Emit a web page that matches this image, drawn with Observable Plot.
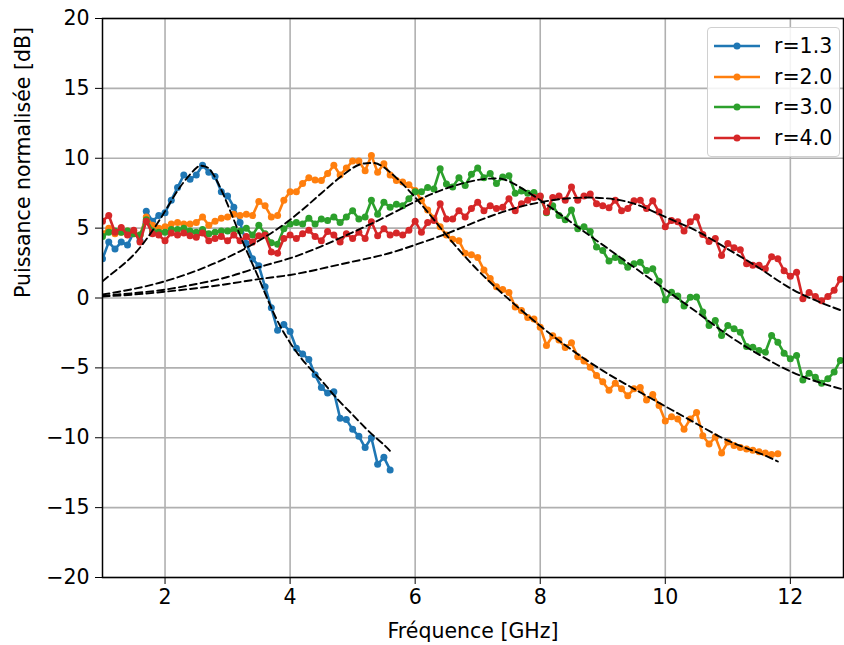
<!DOCTYPE html>
<html>
<head>
<meta charset="utf-8">
<script src="https://cdn.jsdelivr.net/npm/d3@7"></script>
<script src="https://cdn.jsdelivr.net/npm/@observablehq/plot@0.6"></script>
<style>
  body { margin: 0; background: white; }
  #wrap { position: relative; width: 844px; height: 645px; font-family: "DejaVu Sans", sans-serif; }
  #legend { position: absolute; left: 707px; top: 27px; width: 133px; height: 130px;
    border: 1px solid #d0d0d0; border-radius: 4px; background: rgba(255,255,255,0.85); box-sizing: border-box; }
  .row { position: absolute; left: 0; height: 30px; display: flex; align-items: center; }
  .row span { font-size: 20.5px; color: black; margin-left: 14px; }
  .row svg { margin-left: 6px; }
</style>
</head>
<body>
<div id="wrap"><div id="legend"></div></div>
<script>
// Frequency grid of the measurements (GHz)
const freqStart = 1.0;
const freqStep = 0.1;

// Series names and colours
const seriesNames = ["r=1.3", "r=2.0", "r=3.0", "r=4.0"];
const seriesColors = ["#1f77b4", "#ff7f0e", "#2ca02c", "#d62728"];

// Measured normalised power [dB], one value per 0.1 GHz from 1.0 GHz
const r13 = [2.8, 4.0, 3.5, 4.0, 3.8, 4.7, 4.1, 6.2, 5.5, 5.9,
  6.1, 7.0, 7.9, 8.8, 8.5, 8.8, 9.5, 9.0, 8.7, 7.6,
  7.3, 6.5, 5.4, 3.9, 2.8, 2.3, 0.8, -0.7, -2.3, -1.9,
  -2.4, -3.6, -4.0, -4.4, -5.5, -6.4, -6.8, -6.7, -8.6, -8.7,
  -9.4, -9.9, -10.7, -10.0, -11.9, -11.4, -12.3];

const r20 = [4.6, 5.0, 4.6, 4.7, 4.8, 4.6, 4.5, 5.8, 5.2, 5.0,
  5.1, 5.3, 5.4, 5.3, 5.3, 5.4, 5.8, 5.2, 5.5, 5.7,
  5.8, 6.0, 5.9, 6.0, 5.9, 6.9, 6.6, 5.8, 5.9, 7.0,
  7.6, 7.6, 8.2, 8.6, 8.45, 8.4, 8.9, 9.5, 8.8, 9.3,
  9.8, 9.8, 9.1, 10.2, 9.0, 9.6, 8.8, 8.4,
  8.3, 8.1, 7.7, 7.0, 6.3, 5.7, 5.1, 4.5, 4.2, 4.1,
  3.2, 3.1, 2.9, 2.0, 1.4, 0.8, 0.6, 0.4, -0.65, -0.9,
  -1.4, -1.5, -2.1, -3.4, -2.7, -3.0, -3.55, -3.2, -4.2, -4.5,
  -4.95, -5.55, -6.0, -6.6, -6.1, -6.5, -7.0, -6.5, -6.4, -7.3,
  -6.9, -7.7, -8.8, -8.5, -8.65, -9.4, -8.65, -8.2, -9.85, -10.45,
  -9.95, -11.1, -10.3, -10.55, -10.7, -10.8, -10.9, -11.0, -11.1, -11.2,
  -11.15];

const r30 = [4.4, 4.7, 4.8, 4.7, 4.8, 4.6, 4.5, 5.6, 4.8, 4.7,
  4.7, 4.9, 4.9, 5.0, 4.8, 4.7, 4.9, 4.6, 4.7, 4.8,
  4.8, 4.9, 4.8, 5.0,
  4.5, 5.2, 4.6, 3.95, 3.85, 4.95, 5.3, 5.4, 5.3, 5.7,
  5.3, 5.65, 5.55, 5.8, 5.4, 5.8, 6.25, 5.65, 5.8, 7.0,
  6.0, 6.85, 6.5, 6.7, 6.6, 7.1, 7.6, 7.6, 7.9, 7.8,
  9.24, 8.15, 7.95, 8.6, 8.05, 8.85, 9.3, 8.6, 8.9, 8.2,
  8.65, 8.75, 7.5, 7.65, 7.5, 7.55, 7.25, 6.1, 6.6, 5.9,
  5.6, 6.3, 4.95, 5.1, 4.75, 3.65, 3.4, 2.65, 2.9, 2.65,
  2.2, 2.45, 2.55, 1.97, 2.09, 1.2, -0.15, 0.42, 0.15, -0.58,
  0.06, 0.08, -1.0, -1.97, -1.61, -2.68, -1.97, -2.2, -2.45, -3.47,
  -3.52, -3.76, -3.88, -2.68, -3.16, -3.95, -4.35, -4.11, -5.86, -5.38,
  -5.67, -6.1, -5.78, -5.3, -4.47];

const r40 = [5.5, 5.9, 4.7, 5.05, 4.5, 4.85, 4.0, 5.5, 4.6, 4.5,
  4.1, 4.65, 4.5, 4.65, 4.45, 4.35, 4.65, 4.1, 4.25, 4.4,
  4.1, 4.5, 4.1, 4.4, 4.0, 4.45, 4.5, 3.3, 3.2, 4.25,
  4.5, 4.25, 4.6, 4.85, 4.4, 4.1, 4.75, 4.5, 4.0, 4.6,
  4.25, 4.7, 4.25, 5.45, 4.45, 4.95, 4.5, 4.65,
  4.5, 4.85, 5.5, 4.7, 5.4, 5.55, 6.75, 5.65, 5.65, 6.25,
  5.8, 6.4, 6.85, 6.25, 6.6, 6.4, 6.5, 7.1, 6.25, 6.75,
  7.0, 7.2, 7.3, 6.15, 7.2,
  7.3, 7.0, 7.95, 7.0, 7.3, 7.45, 6.75, 6.6, 6.45, 7.0,
  6.25, 6.4, 6.95, 7.0, 6.4, 6.95, 6.15, 5.1, 5.55, 5.45,
  4.8, 5.45, 5.8, 4.55, 4.05, 4.25, 3.05, 3.9, 3.6, 3.45,
  2.45, 2.35, 2.35, 2.1, 2.95, 2.8, 1.95, 1.55, 1.85, -0.05,
  0.4, 0.1, -0.2, 0.1, 0.55, 1.35];

// Fitted curves (dashed)
const fit13F = [1.0, 1.25, 1.5, 1.75, 2.0, 2.25, 2.5, 2.6, 2.75, 3.0, 3.25, 3.5, 3.75, 4.0, 4.25, 4.5, 4.75, 5.0, 5.25, 5.5, 5.6];
const fit13V = [1.2, 2.1, 3.1, 4.5, 6.2, 8.0, 9.3, 9.45, 9.0, 6.7, 3.95, 1.4, -1.2, -3.2, -4.7, -5.9, -7.2, -8.35, -9.5, -10.5, -10.95];

const fit20F = [1.0, 1.5, 2.0, 2.5, 3.0, 3.5, 4.0, 4.5, 5.0, 5.25, 5.5, 6.0, 6.5, 7.0, 7.5, 8.0, 8.5, 9.0, 9.5, 10.0, 10.5, 11.0, 11.5, 11.8];
const fit20V = [0.25, 0.65, 1.2, 1.95, 2.9, 4.1, 5.6, 7.5, 9.3, 9.65, 9.35, 7.2, 4.5, 2.0, -0.1, -2.0, -3.7, -5.2, -6.5, -7.75, -9.0, -10.2, -11.1, -11.7];

const fit30F = [1.0, 1.5, 2.0, 2.5, 3.0, 3.5, 4.0, 4.5, 5.0, 5.5, 6.0, 6.5, 7.0, 7.25, 7.5, 8.0, 8.5, 9.0, 9.5, 10.0, 10.5, 11.0, 11.5, 12.0, 12.5, 12.85];
const fit30V = [0.15, 0.35, 0.6, 1.0, 1.5, 2.2, 2.85, 3.7, 4.7, 5.75, 6.9, 7.85, 8.45, 8.55, 8.35, 7.0, 5.4, 3.8, 2.2, 0.6, -1.0, -2.65, -4.05, -5.25, -6.1, -6.55];

const fit40F = [1.0, 1.5, 2.0, 2.5, 3.0, 3.5, 4.0, 4.5, 5.0, 5.5, 6.0, 6.5, 7.0, 7.5, 8.0, 8.5, 9.0, 9.5, 10.0, 10.5, 11.0, 11.5, 12.0, 12.5, 12.85];
const fit40V = [0.1, 0.25, 0.45, 0.7, 1.0, 1.35, 1.65, 2.1, 2.6, 3.1, 3.8, 4.6, 5.5, 6.3, 6.85, 7.15, 7.15, 6.75, 5.8, 4.8, 3.5, 2.15, 0.7, -0.35, -0.95];

// Axis ticks
const xTicks = [2, 4, 6, 8, 10, 12];
const yTicks = [-20, -15, -10, -5, 0, 5, 10, 15, 20];

const seriesValues = [r13, r20, r30, r40];
const fits = [[fit13F, fit13V], [fit20F, fit20V], [fit30F, fit30V], [fit40F, fit40V]];

const dataRows = seriesValues.map((vals, j) =>
  vals.map((v, i) => ({f: +(freqStart + i * freqStep).toFixed(2), v, s: seriesNames[j]})));
const fitRows = fits.flatMap(([F, V], j) => F.map((f, i) => ({f, v: V[i], s: seriesNames[j]})));

const FS = 20.5;
const marks = [
  Plot.gridX(xTicks, {stroke: "#b0b0b0", strokeOpacity: 1, strokeWidth: 1.6}),
  Plot.gridY(yTicks, {stroke: "#b0b0b0", strokeOpacity: 1, strokeWidth: 1.6})
];
dataRows.forEach((rows, j) => {
  marks.push(Plot.line(rows, {x: "f", y: "v", stroke: seriesColors[j], strokeWidth: 2.6, clip: true}));
  marks.push(Plot.dot(rows, {x: "f", y: "v", r: 3.5, fill: seriesColors[j], stroke: "none", clip: true}));
});
marks.push(Plot.line(fitRows, {x: "f", y: "v", z: "s", stroke: "black", strokeWidth: 1.9,
  strokeDasharray: "7,4", curve: "natural", clip: true}));
marks.push(Plot.frame({stroke: "black", strokeWidth: 1.5}));
marks.push(Plot.axisX(xTicks, {tickSize: 7, tickPadding: 5, label: null, fontSize: FS}));
marks.push(Plot.axisY(yTicks, {tickSize: 7, tickPadding: 6, label: null, fontSize: FS}));
marks.push(Plot.text(["Fréquence [GHz]"], {text: d => d, frameAnchor: "bottom", dy: 60, fontSize: FS}));
marks.push(Plot.text(["Puissance normalisée [dB]"], {text: d => d, frameAnchor: "left", dx: -79, rotate: -90, fontSize: FS}));

const chart = Plot.plot({
  width: 844, height: 645,
  marginLeft: 102, marginRight: 1, marginTop: 18, marginBottom: 68,
  x: {domain: [1, 12.85]},
  y: {domain: [-20, 20]},
  style: {fontFamily: "DejaVu Sans", fontSize: FS + "px", background: "white", color: "black", overflow: "visible"},
  marks
});
const wrap = document.getElementById("wrap");
wrap.insertBefore(chart, wrap.firstChild);

// Legend
const legend = document.getElementById("legend");
seriesNames.forEach((name, j) => {
  const row = document.createElement("div");
  row.className = "row";
  row.style.top = (3 + j * 30.7) + "px";
  row.innerHTML = `<svg width="46" height="10"><line x1="0" y1="5" x2="46" y2="5" stroke="${seriesColors[j]}" stroke-width="2.6"/><circle cx="23" cy="5" r="3.5" fill="${seriesColors[j]}"/></svg><span>${name}</span>`;
  legend.appendChild(row);
});
</script>
</body>
</html>
